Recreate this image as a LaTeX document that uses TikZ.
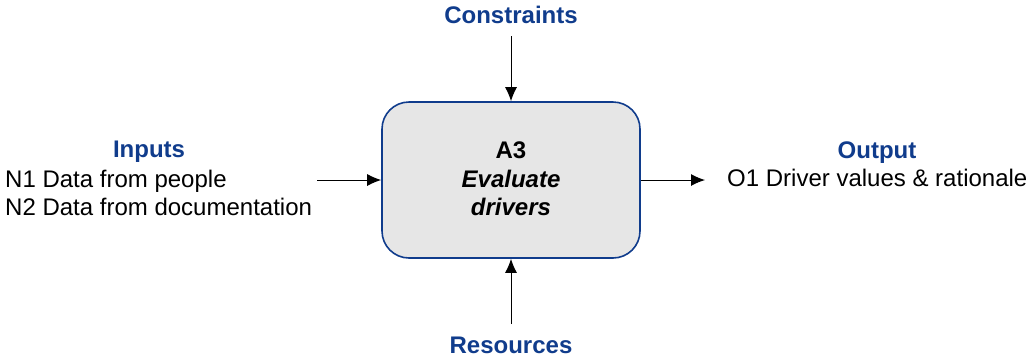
\documentclass[tikz,border=0pt]{standalone}
\usepackage{fontspec}
\setmainfont{Liberation Sans}
\usetikzlibrary{arrows.meta}
\definecolor{idefblue}{RGB}{16,60,140}
\definecolor{boxfill}{RGB}{230,230,230}
\begin{document}
\begin{tikzpicture}[x=1pt,y=-1pt,
  lbl/.style={font=\fontsize{24}{28}\selectfont\bfseries, text=idefblue, inner sep=0pt, anchor=base},
  txt/.style={font=\fontsize{24}{28}\selectfont, inner sep=0pt, anchor=base west},
  boxtxt/.style={font=\fontsize{24}{28}\selectfont\bfseries, inner sep=0pt, anchor=base},
  actbox/.style={draw=idefblue, line width=1.6pt, fill=boxfill, rounded corners=27pt,
                 minimum width=258pt, minimum height=156pt, inner sep=0pt},
  flow/.style={-{Latex[length=14pt,width=12pt]}, line width=1pt}]
\useasboundingbox (0,0) rectangle (1027,360);
\node[actbox] (a3) at (511,180) {};
\node[boxtxt] (a3id) at (511,158) {A3};
\node[boxtxt, font=\fontsize{24}{28}\selectfont\bfseries\itshape] (a3n1) at (511,187) {Evaluate};
\node[boxtxt, font=\fontsize{24}{28}\selectfont\bfseries\itshape] (a3n2) at (511,215) {drivers};
% constraints
\node[lbl] (con) at (511,23) {Constraints};
\coordinate (conend) at (511,36);
\draw[flow] (conend) -- (a3.north);
% resources
\node[lbl] (res) at (511,353) {Resources};
\coordinate (resend) at (511,324);
\draw[flow] (resend) -- (a3.south);
% inputs
\node[lbl] (inp) at (149,157) {Inputs};
\node[txt] (n1) at (5,187) {N1 Data from people};
\node[txt] (n2) at (5,215) {N2 Data from documentation};
\coordinate (inend) at (317,180);
\draw[flow] (inend) -- (a3.west);
% output
\node[lbl] (outl) at (877,158) {Output};
\node[txt] (o1) at (727,186) {O1 Driver values \& rationale};
\coordinate (outend) at (705,180);
\draw[flow] (a3.east) -- (outend);
\end{tikzpicture}
\end{document}
